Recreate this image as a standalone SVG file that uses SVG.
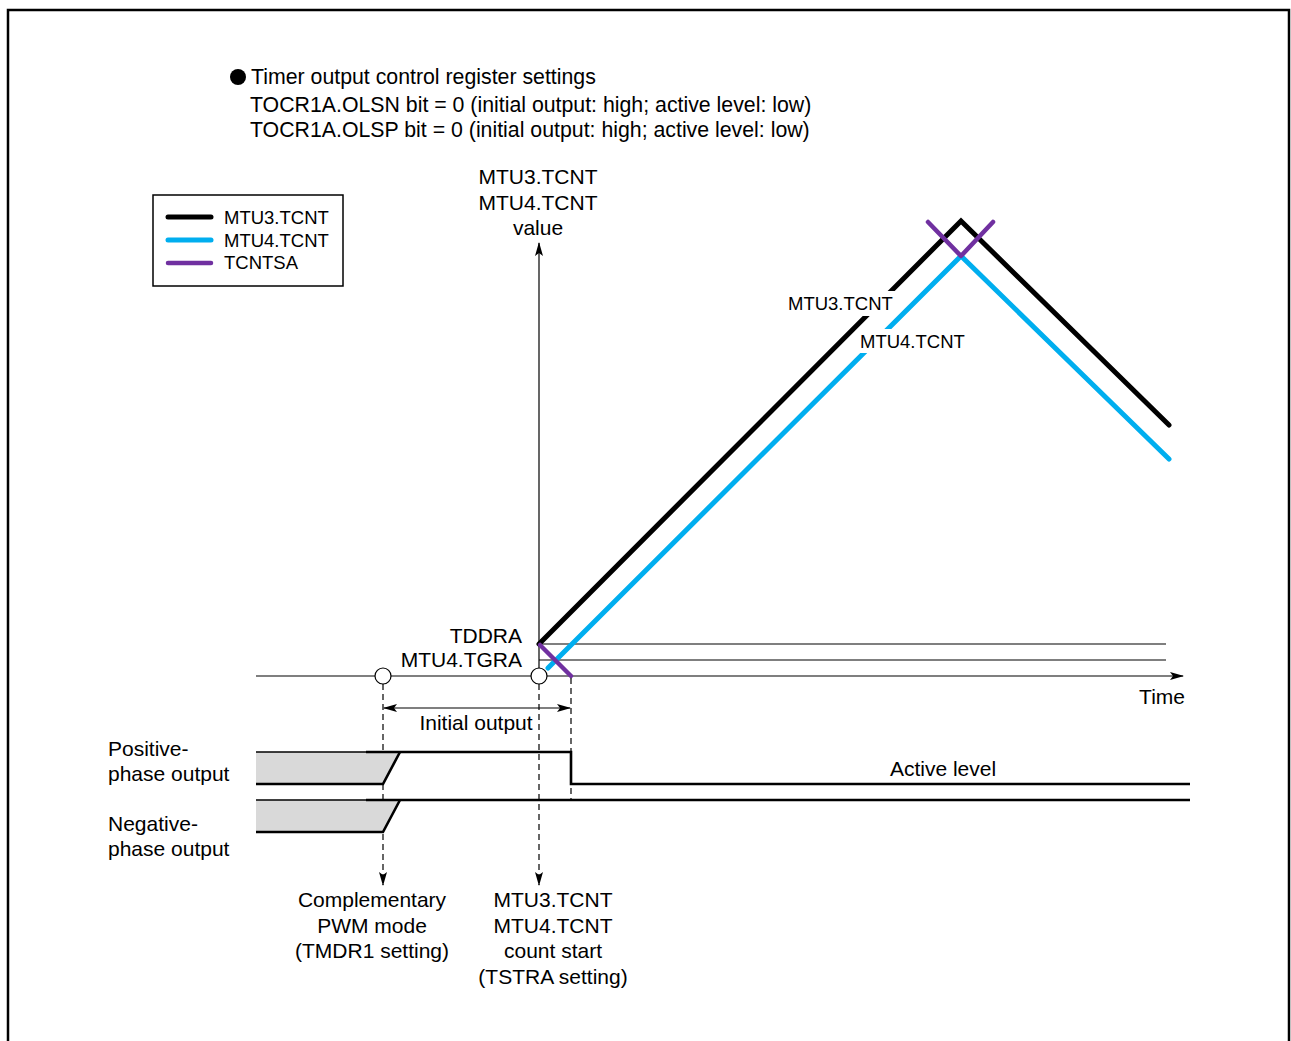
<svg xmlns="http://www.w3.org/2000/svg" width="1291" height="1041" viewBox="0 0 1291 1041">
<style>
text{font-family:"Liberation Sans",Arial,sans-serif;fill:#000}
.t{font-size:21px}
.h{font-size:21.3px}
.s{font-size:18.5px}
.thin{stroke:#000;stroke-width:1.2;fill:none}
.dash{stroke:#000;stroke-width:1.2;fill:none;stroke-dasharray:6 4}
.sig{stroke:#000;stroke-width:2.6;fill:none}
.blk{stroke:#000;stroke-width:5;fill:none;stroke-linecap:round;stroke-linejoin:miter}
.blu{stroke:#00aeef;stroke-width:5;fill:none;stroke-linecap:round}
.pur{stroke:#7030a0;stroke-width:4.5;fill:none;stroke-linecap:round;stroke-linejoin:round}
</style>
<defs>
<marker id="ah" markerWidth="14" markerHeight="8" refX="13" refY="4" orient="auto-start-reverse" markerUnits="userSpaceOnUse">
<path d="M0,0 L14,4 L0,8 L3,4 Z" fill="#000"/>
</marker>
</defs>
<rect x="8" y="10" width="1281" height="1040" fill="#fff" stroke="#000" stroke-width="2.5"/>

<g id="settings">
<circle cx="238" cy="77" r="8" fill="#000"/>
<text class="h" x="251" y="84">Timer output control register settings</text>
<text class="h" x="250" y="112">TOCR1A.OLSN bit = 0 (initial output: high; active level: low)</text>
<text class="h" x="250" y="137">TOCR1A.OLSP bit = 0 (initial output: high; active level: low)</text>
</g>

<g id="legend">
<rect x="153" y="195" width="190" height="91" fill="#fff" stroke="#000" stroke-width="1.5"/>
<line x1="168" y1="217" x2="211" y2="217" class="blk"/>
<line x1="168" y1="240" x2="211" y2="240" class="blu"/>
<line x1="168" y1="263" x2="211" y2="263" class="pur"/>
<text class="s" x="224" y="224">MTU3.TCNT</text>
<text class="s" x="224" y="247">MTU4.TCNT</text>
<text class="s" x="224" y="269">TCNTSA</text>
</g>

<g id="axes">
<line x1="539" y1="676" x2="539" y2="243" class="thin" marker-end="url(#ah)"/>
<line x1="256" y1="676" x2="1183" y2="676" class="thin" marker-end="url(#ah)"/>
<line x1="539" y1="644" x2="1166" y2="644" class="thin"/>
<line x1="539" y1="660" x2="1166" y2="660" class="thin"/>
<text class="t" x="538" y="184" text-anchor="middle">MTU3.TCNT</text>
<text class="t" x="538" y="210" text-anchor="middle">MTU4.TCNT</text>
<text class="t" x="538" y="235" text-anchor="middle">value</text>
<text class="t" x="522" y="643" text-anchor="end">TDDRA</text>
<text class="t" x="522" y="667" text-anchor="end">MTU4.TGRA</text>
<text class="t" x="1185" y="704" text-anchor="end">Time</text>
</g>

<g id="counters">
<polyline points="539,644 961,221 1169,425" class="blk" stroke-linecap="butt"/>
<polyline points="548,668 961,256 1169,459" class="blu" stroke-linecap="butt"/>
<line x1="540" y1="645" x2="571" y2="676" class="pur"/>
<polyline points="928,222 961,256 993,222" class="pur"/>
<rect x="786" y="291" width="110" height="25" fill="#fff"/>
<rect x="858" y="329" width="110" height="24" fill="#fff"/>
<text class="s" x="788" y="310">MTU3.TCNT</text>
<text class="s" x="860" y="348">MTU4.TCNT</text>
</g>

<g id="markers">
<circle cx="383" cy="676" r="8" fill="#fff" stroke="#000" stroke-width="1.2"/>
<circle cx="539" cy="676" r="8" fill="#fff" stroke="#000" stroke-width="1.2"/>
</g>

<g id="connectors">
<line x1="383" y1="684" x2="383" y2="885" class="dash" marker-end="url(#ah)"/>
<line x1="539" y1="684" x2="539" y2="885" class="dash" marker-end="url(#ah)"/>
<line x1="571" y1="678" x2="571" y2="800" class="dash"/>
<line x1="384" y1="708" x2="570" y2="708" class="thin" marker-start="url(#ah)" marker-end="url(#ah)"/>
<text class="t" x="476" y="730" text-anchor="middle">Initial output</text>
</g>

<g id="positive">
<polygon points="256,752 400,752 383,784 256,784" fill="#d9d9d9" stroke="none"/>
<line x1="256" y1="752" x2="366" y2="752" stroke="#000" stroke-width="1.5"/>
<polyline points="256,784 383,784 400,752" class="sig"/>
<polyline points="366,752 571,752 571,784 1190,784" class="sig"/>
<text class="t" x="108" y="756">Positive-</text>
<text class="t" x="108" y="781">phase output</text>
<text class="t" x="943" y="776" text-anchor="middle">Active level</text>
</g>

<g id="negative">
<polygon points="256,800 400,800 383,832 256,832" fill="#d9d9d9" stroke="none"/>
<line x1="256" y1="800" x2="366" y2="800" stroke="#000" stroke-width="1.5"/>
<polyline points="256,832 383,832 400,800" class="sig"/>
<line x1="366" y1="800" x2="1190" y2="800" class="sig"/>
<text class="t" x="108" y="831">Negative-</text>
<text class="t" x="108" y="856">phase output</text>
</g>

<g id="notes">
<text class="t" x="372" y="907" text-anchor="middle">Complementary</text>
<text class="t" x="372" y="933" text-anchor="middle">PWM mode</text>
<text class="t" x="372" y="958" text-anchor="middle">(TMDR1 setting)</text>
<text class="t" x="553" y="907" text-anchor="middle">MTU3.TCNT</text>
<text class="t" x="553" y="933" text-anchor="middle">MTU4.TCNT</text>
<text class="t" x="553" y="958" text-anchor="middle">count start</text>
<text class="t" x="553" y="984" text-anchor="middle">(TSTRA setting)</text>
</g>
</svg>
